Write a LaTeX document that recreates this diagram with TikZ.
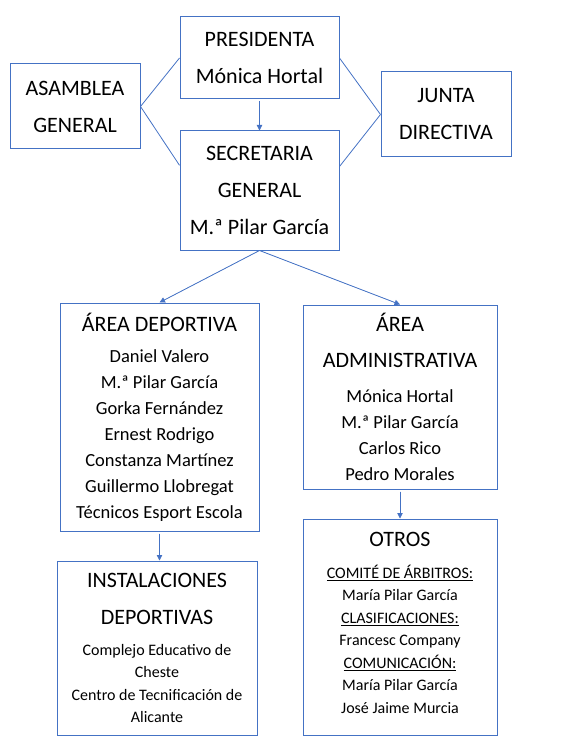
\documentclass[tikz,border=0pt]{standalone}
\usepackage{fontspec}
\setmainfont{Carlito}
\usepackage{tikz}
\usetikzlibrary{arrows.meta,calc}
\definecolor{orgblue}{HTML}{4472C4}
\newcommand{\headsize}{\fontsize{22}{37}\selectfont}
\newcommand{\namesize}{\fontsize{18.5}{26}\selectfont}
\newcommand{\smallsize}{\fontsize{16}{22.5}\selectfont}
\tikzset{
  orgbox/.style={draw=orgblue, line width=1pt, fill=white, text=black,
    align=center, inner sep=0pt},
  headbox/.style={orgbox, font=\headsize},
  areabox/.style={orgbox, font=\namesize},
  subbox/.style={orgbox, font=\smallsize},
  link/.style={draw=orgblue, line width=0.8pt},
  arr/.style={-{Triangle[length=5.5pt,width=5.5pt]}, draw=orgblue, fill=orgblue,
    line width=0.8pt, shorten <=2pt}}

\begin{document}
\begin{tikzpicture}[x=1pt, y=-1pt]
  \useasboundingbox (0,0) rectangle (571,754);
  \node[headbox, minimum width=159pt, minimum height=82pt] (pres) at (259.5,58)
    {PRESIDENTA\\ Mónica Hortal};
  \node[headbox, minimum width=130pt, minimum height=85pt] (asam) at (75,106.5)
    {ASAMBLEA\\ GENERAL};
  \node[headbox, minimum width=130pt, minimum height=85pt] (junta) at (446,114.5)
    {JUNTA\\ DIRECTIVA};
  \node[headbox, minimum width=159pt, minimum height=119pt] (sec) at (259.5,190.5)
    {SECRETARIA\\ GENERAL\\ M.ª Pilar García};
  \node[areabox, minimum width=199pt, minimum height=228pt] (dep) at (159.5,417)
    {{\headsize ÁREA DEPORTIVA}\\[5pt]
     Daniel Valero\\ M.ª Pilar García\\ Gorka Fernández\\ Ernest Rodrigo\\
     Constanza Martínez\\ Guillermo Llobregat\\ Técnicos Esport Escola};
  \node[areabox, minimum width=194pt, minimum height=184pt] (adm) at (400,397)
    {{\headsize ÁREA}\\[10pt] {\headsize ADMINISTRATIVA}\\[9pt]
     Mónica Hortal\\ M.ª Pilar García\\ Carlos Rico\\ Pedro Morales};
  \node[subbox, minimum width=200pt, minimum height=174pt] (inst) at (157,648)
    {{\headsize INSTALACIONES}\\[14.5pt] {\headsize DEPORTIVAS}\\[8.5pt]
     Complejo Educativo de\\ Cheste\\ Centro de Tecnificación de\\ Alicante};
  \node[subbox, minimum width=194pt, minimum height=216pt] (otros) at (400,627)
    {{\headsize OTROS}\\[9.5pt]
     \underline{COMITÉ DE ÁRBITROS:}\\ María Pilar García\\
     \underline{CLASIFICACIONES:}\\ Francesc Company\\
     \underline{COMUNICACIÓN:}\\ María Pilar García\\ José Jaime Murcia\\[-14pt]};
  % side links
  \coordinate (secw) at ($(sec.north west)!0.29!(sec.south west)$);
  \coordinate (sece) at ($(sec.north east)!0.3!(sec.south east)$);
  \draw[link] (asam.east) -- (pres.west);
  \draw[link] (asam.east) -- (secw);
  \draw[link] (junta.west) -- (pres.east);
  \draw[link] (junta.west) -- (sece);
  % arrows down
  \draw[arr] (pres.south) -- (sec.north);
  \draw[arr, shorten <=0pt] (sec.south) -- (dep.north);
  \draw[arr, shorten <=0pt] (sec.south) -- (adm.north);
  \draw[arr] (dep.south) -- (dep.south |- inst.north);
  \draw[arr] (adm.south) -- (otros.north);
\end{tikzpicture}
\end{document}
